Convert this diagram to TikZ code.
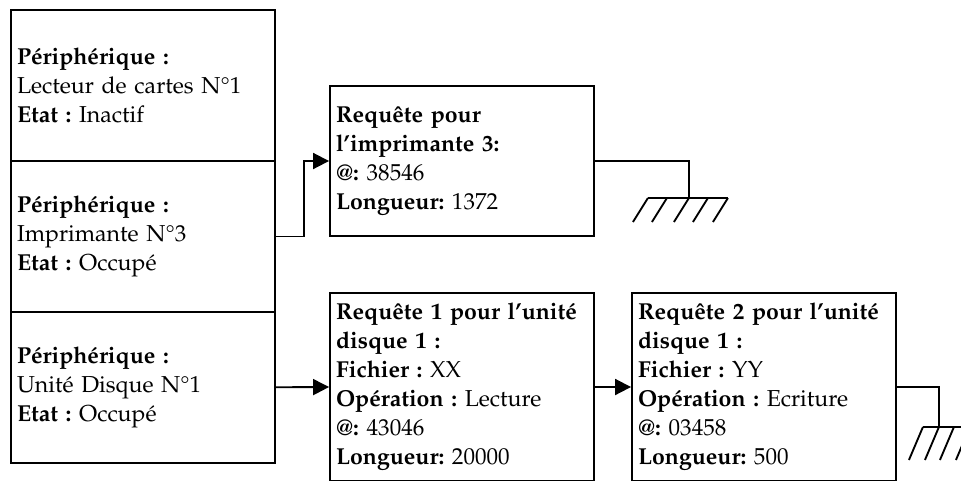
\documentclass[tikz,border=0pt]{standalone}
\usepackage[T1]{fontenc}
\usepackage{mathpazo}
\usetikzlibrary{arrows.meta}
\frenchspacing
\tikzset{
  box/.style={draw, line width=1.4pt, rectangle, inner xsep=4.5pt, inner ysep=0pt,
    text width=189pt, minimum width=198pt, align=left,
    font=\fontsize{17.3}{21.75}\selectfont},
  devbox/.style={box, minimum height=113.25pt},
  reqbox/.style={box, minimum height=112.5pt},
  tallbox/.style={box, minimum height=141pt},
  link/.style={line width=1.4pt},
  arr/.style={link, -{Triangle[length=12pt,width=12pt]}},
}
\begin{document}
\begin{tikzpicture}[x=0.75pt, y=-0.75pt]
\useasboundingbox (0,0) rectangle (961,480);
\clip (0,0) rectangle (961,480);

% device table
\node[devbox] (dev1) at (143,85.5) {\textbf{P\'eriph\'erique :}\\Lecteur de cartes N\textdegree 1\\\textbf{Etat :} Inactif};
\node[devbox] (dev2) at (143,236.5) {\textbf{P\'eriph\'erique :}\\Imprimante N\textdegree 3\\\textbf{Etat :} Occup\'e};
\node[devbox] (dev3) at (143,387.25) {\textbf{P\'eriph\'erique :}\\Unit\'e Disque N\textdegree 1\\\textbf{Etat :} Occup\'e};

% request queues
\node[reqbox] (req1) at (462,161) {\textbf{Requ\^ete pour}\\\textbf{l'imprimante 3:}\\\textbf{@:} 38546\\\textbf{Longueur:} 1372};
\node[tallbox] (reqA) at (462,387) {\textbf{Requ\^ete 1 pour l'unit\'e}\\\textbf{disque 1 :}\\\textbf{Fichier :} XX\\\textbf{Op\'eration :} Lecture\\\textbf{@:} 43046\\\textbf{Longueur:} 20000};
\node[tallbox] (reqB) at (764,387) {\textbf{Requ\^ete 2 pour l'unit\'e}\\\textbf{disque 1 :}\\\textbf{Fichier :} YY\\\textbf{Op\'eration :} Ecriture\\\textbf{@:} 03458\\\textbf{Longueur:} 500};

% links
\draw[arr] (dev2.east) -- ++(28,0) |- (req1.west);
\draw[arr] (dev3.east) -- (reqA.west);
\draw[arr] (reqA.east) -- (reqB.west);

% end of list (ground symbols)
\draw[link] (req1.east) -- ++(94,0) -- ++(0,37) coordinate (g1);
\draw[link] ([xshift=-41*0.75pt]g1) -- ([xshift=39*0.75pt]g1);
\foreach \dx in {-41,-22,0,19,39}
  \draw[link] ([xshift=\dx*0.75pt]g1) -- ++(-15,24);

\draw[link] (reqB.east) -- ++(42,0) -- ++(0,40) coordinate (g2);
\draw[link] ([xshift=-16*0.75pt]g2) -- ([xshift=60*0.75pt]g2);
\foreach \dx in {-16,0,15,31}
  \draw[link] ([xshift=\dx*0.75pt]g2) -- ++(-14,33);
\end{tikzpicture}
\end{document}
